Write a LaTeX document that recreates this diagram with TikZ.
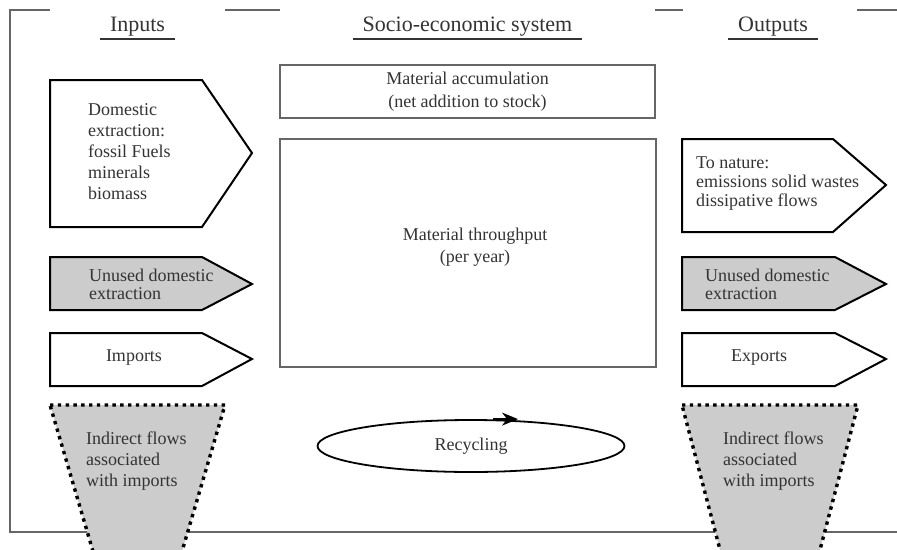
\documentclass[tikz,border=0pt]{standalone}
\usepackage{fontspec}
\setmainfont{Liberation Serif}
\usetikzlibrary{shapes.geometric,arrows.meta}

\definecolor{flowgray}{gray}{0.8}
\definecolor{framegray}{gray}{0.4}
\definecolor{textgray}{gray}{0.2}

\tikzset{
	heading/.style={font=\fontsize{22}{26}\selectfont, text=textgray, inner xsep=10pt, inner ysep=2pt},
	uline/.style={line width=2pt, draw=textgray},
	frameline/.style={line width=1.5pt, draw=framegray},
	flowarrow/.style={draw=black, line width=2pt, fill=white, line join=miter},
	unusedarrow/.style={flowarrow, fill=flowgray},
	indirect/.style={draw=black, fill=flowgray, line width=3.4pt, dash pattern=on 3.4pt off 4.4pt},
	sysbox/.style={draw=framegray, line width=1.5pt, rectangle, inner sep=0pt},
	flowtext/.style={font=\fontsize{18}{21}\selectfont, text=textgray, align=left, inner sep=0pt},
}

\begin{document}
\begin{tikzpicture}[x=1pt,y=-1pt]
	\useasboundingbox (0,0) rectangle (897,549);
	\clip (0,0) rectangle (897,549);
	
	% frame
	\draw[frameline] (50,10) -- (10,10) -- (10,532) -- (897,532);
	\draw[frameline] (225,10) -- (280,10);
	\draw[frameline] (655,10) -- (683,10);
	\draw[frameline] (857,10) -- (897,10);
	
	% headings
	\node[heading] (inputs) at (137.5,27) {Inputs};
	\node[heading] (socio) at (467.5,27) {Socio-economic system};
	\node[heading] (outputs) at (773,27) {Outputs};
	\draw[uline] (inputs.south west) -- (inputs.south east);
	\draw[uline] (socio.south west) -- (socio.south east);
	\draw[uline] (outputs.south west) -- (outputs.south east);
	
	% inputs
	\draw[flowarrow] (50,80) -- (202,80) -- (252,153) -- (202,227) -- (50,227) -- cycle;
	\draw[unusedarrow] (50,257) -- (202,257) -- (252,284) -- (202,310) -- (50,310) -- cycle;
	\draw[flowarrow] (50,333) -- (202,333) -- (252,359) -- (202,386) -- (50,386) -- cycle;
	\draw[indirect] (50,405) -- (225,405) -- (178,565) -- (97,565) -- cycle;
	
	\node[flowtext, anchor=west] (domestic) at (88,152) {Domestic\\extraction:\\fossil Fuels\\minerals\\biomass};
	\node[flowtext, anchor=west, font=\fontsize{18}{18}\selectfont] (unusedin) at (89,284) {Unused domestic\\extraction};
	\node[flowtext] (imports) at (134,358) {Imports};
	\node[flowtext, anchor=west] (indirectin) at (86,461) {Indirect flows\\associated\\with imports};
	
	% socio-economic system
	\node[sysbox, minimum width=375pt, minimum height=53pt, flowtext, align=center, font=\fontsize{18}{23}\selectfont] (accum) at (467.5,91.5) {Material accumulation\\(net addition to stock)};
	\node[sysbox, minimum width=376pt, minimum height=228pt] (through) at (468,253) {};
	\node[flowtext, align=center, font=\fontsize{18}{22}\selectfont] (throughtext) at (475,247) {Material throughput\\(per year)};
	
	\node[ellipse, draw=black, line width=1.8pt, minimum width=307pt, minimum height=52pt, inner sep=0pt, flowtext] (recycling) at (471,446) {Recycling};
	\draw[line width=1.8pt, -{Stealth[length=16pt,width=13pt]}] ([xshift=22pt]recycling.north) -- ([xshift=47pt]recycling.north);
	
	% outputs
	\draw[flowarrow] (682,139) -- (833,139) -- (886,185) -- (833,232) -- (682,232) -- cycle;
	\draw[unusedarrow] (682,257) -- (835,257) -- (886,284) -- (835,310) -- (682,310) -- cycle;
	\draw[flowarrow] (682,333) -- (835,333) -- (886,359) -- (835,386) -- (682,386) -- cycle;
	\draw[indirect] (682,405) -- (858,405) -- (816,565) -- (724,565) -- cycle;
	
	\node[flowtext, anchor=west, font=\fontsize{18}{19}\selectfont] (nature) at (696,184) {To nature:\\emissions solid wastes\\dissipative flows};
	\node[flowtext, anchor=west, font=\fontsize{18}{18}\selectfont] (unusedout) at (705,284) {Unused domestic\\extraction};
	\node[flowtext] (exports) at (759,358) {Exports};
	\node[flowtext, anchor=west] (indirectout) at (723,461) {Indirect flows\\associated\\with imports};
	
\end{tikzpicture}
\end{document}
